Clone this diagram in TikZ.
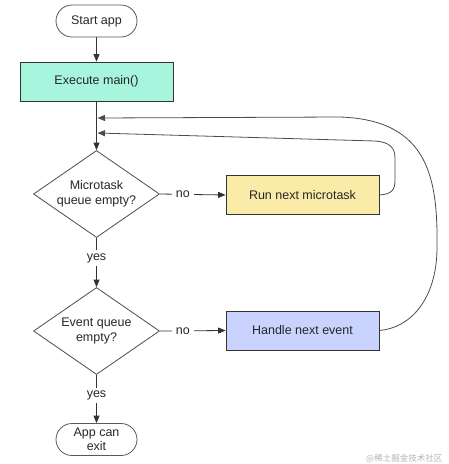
\documentclass[tikz,border=0pt]{standalone}
\usepackage{fontspec}
\setmainfont{Liberation Sans}
\newfontfamily\cjk{Noto Sans CJK SC}
\usetikzlibrary{arrows.meta,shapes.geometric}

\definecolor{mainfill}{RGB}{166,245,220}
\definecolor{taskfill}{RGB}{251,235,168}
\definecolor{eventfill}{RGB}{202,211,253}

\begin{document}
\begin{tikzpicture}[x=1pt, y=-1pt, line width=0.8pt,
  every node/.style={font=\fontsize{12.5}{14.5}\selectfont, text=black!85},
  term/.style={draw=black!65, rounded corners=16pt, minimum width=81pt, minimum height=32pt, align=center, inner sep=1pt},
  proc/.style={draw=black!80, minimum width=153pt, minimum height=39pt},
  decide/.style={draw=black!70, diamond, aspect=1.43, inner sep=0pt, minimum width=126pt, minimum height=87pt, align=center},
  flow/.style={-{Triangle[length=7.5pt,width=6pt]}, draw=black!80},
  back/.style={flow, draw=black!70},
  tag/.style={fill=white, inner xsep=4pt, inner ysep=3pt}]
  \useasboundingbox (0,0) rectangle (448,464);

  \node[term] (start) at (96.5,21) {Start app};
  \node[proc,fill=mainfill] (main) at (96.5,81.5) {Execute main()};
  \node[decide] (micro) at (96.5,194) {Microtask\\queue empty?};
  \node[proc,fill=taskfill] (task) at (302.5,195) {Run next microtask};
  \node[decide] (event) at (96.5,331) {Event queue\\empty?};
  \node[proc,fill=eventfill] (handle) at (302.5,330.5) {Handle next event};
  \node[term] (exit) at (96.5,439.5) {App can\\exit};

  \coordinate (loopa) at (97.5,118);
  \coordinate (loopb) at (97.5,133);

  \draw[flow] (start) -- (main);
  \draw[flow] (main) -- (micro);
  \draw[flow] (micro.east) -- node[tag,pos=0.35]{no} (task.west);
  \draw[flow] (micro.south) -- node[tag,pos=0.41]{yes} (event.north);
  \draw[flow] (event.east) -- node[tag,pos=0.35]{no} (handle.west);
  \draw[flow] (event.south) -- node[tag,pos=0.43]{yes} (exit.north);

  % back to the microtask check
  \draw[back] (task.east) .. controls (392,194) and (395,190) .. (395,180)
    -- (395,158) .. controls (395,148) and (390,142) .. (375,141) -- (loopb);
  \draw[back] (handle.east) .. controls (410,328) and (436,300) .. (437,250)
    .. controls (438,180) and (430,120) .. (340,117) -- (loopa);

  \node[anchor=east, text=black!30, font=\cjk\fontsize{8.5}{10}\selectfont] (mark) at (446,459) {@稀土掘金技术社区};
\end{tikzpicture}
\end{document}
